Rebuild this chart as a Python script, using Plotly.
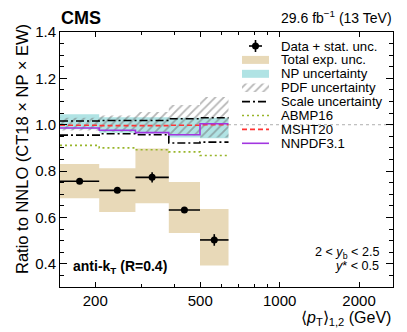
import numpy as np
import plotly.graph_objects as go

# pT bin edges (GeV) and measured / predicted ratios to NNLO (CT18 x NP x EW)
edges = [147, 207, 284, 380, 499, 640]
data_ratio = [0.756, 0.717, 0.773, 0.632, 0.503]
stat_unc = [0.010, 0.010, 0.022, 0.012, 0.025]
exp_up = [0.831, 0.812, 0.897, 0.753, 0.636]
exp_dn = [0.683, 0.624, 0.661, 0.533, 0.393]
np_up = [1.045, 1.032, 1.032, 1.030, 1.030]
np_dn = [0.980, 0.965, 0.962, 0.945, 0.942]
pdf_up = [1.030, 1.040, 1.055, 1.085, 1.120]
pdf_dn = [0.975, 0.970, 0.965, 0.955, 0.945]
scale_up = [1.016, 1.018, 1.018, 1.026, 1.030]
scale_dn = [0.955, 0.961, 0.957, 0.921, 0.925]
abmp16 = [0.911, 0.900, 0.892, 0.883, 0.867]
msht20 = [0.998, 0.996, 0.996, 0.998, 1.000]
nnpdf31 = [0.986, 0.976, 0.966, 0.957, 1.004]

x_tickvals = [200, 500, 1000, 2000]
x_minor = [300, 400, 600, 700, 800, 900]
y_tickvals = [0.4, 0.6, 0.8, 1.0, 1.2, 1.4]

TAN = "#e8d9b8"
CYAN = "#b0e3e4"
GREEN = "#98b52a"
RED = "#ff3333"
PURPLE = "#a236e0"
HATCH = "#6e6e6e"
FONT = "Liberation Sans"

# figure geometry (pixels)
W, H = 407, 332
ML, MR, MT, MB = 60, 14, 32, 45
PW, PH = W - ML - MR, H - MT - MB


def fx(px):
    return (px - ML) / PW


def fy(py):
    return 1 - (py - MT) / PH


lo = edges[:-1]
hi = edges[1:]
centers = [np.sqrt(a * b) for a, b in zip(lo, hi)]


def band(up, dn):
    xs, ys = [], []
    for a, b, u in zip(lo, hi, up):
        xs += [a, b]
        ys += [u, u]
    for a, b, d in reversed(list(zip(lo, hi, dn))):
        xs += [b, a]
        ys += [d, d]
    return xs, ys


def boxes(up, dn):
    xs, ys = [], []
    for a, b, u, d in zip(lo, hi, up, dn):
        xs += [a, b, b, a, a, None]
        ys += [d, d, u, u, d, None]
    return xs, ys


def step(vals):
    return edges, list(vals) + [vals[-1]]


fig = go.Figure()

bx, by = boxes(exp_up, exp_dn)
fig.add_trace(go.Scatter(x=bx, y=by, fill="toself", fillcolor=TAN, mode="none",
                         showlegend=False, hoverinfo="skip"))

nx, ny = band(np_up, np_dn)
fig.add_trace(go.Scatter(x=nx, y=ny, fill="toself", fillcolor=CYAN, mode="none",
                         showlegend=False, hoverinfo="skip"))

hatch = dict(shape="/", fgcolor=HATCH, bgcolor="rgba(0,0,0,0)", size=6, solidity=0.3)
px_, py_ = band(pdf_up, pdf_dn)
fig.add_trace(go.Scatter(x=px_, y=py_, fill="toself", mode="none", fillpattern=hatch,
                         showlegend=False, hoverinfo="skip"))

for vals in (scale_up, scale_dn):
    sx, sy = step(vals)
    fig.add_trace(go.Scatter(x=sx, y=sy, mode="lines", line_shape="hv",
                             line=dict(color="black", width=1.6, dash="8px,3px,2px,3px"),
                             showlegend=False, hoverinfo="skip"))

for vals, col, dash in ((abmp16, GREEN, "2px,3px"), (msht20, RED, "5px,3px"),
                        (nnpdf31, PURPLE, "solid")):
    sx, sy = step(vals)
    fig.add_trace(go.Scatter(x=sx, y=sy, mode="lines", line_shape="hv",
                             line=dict(color=col, width=1.6, dash=dash),
                             showlegend=False, hoverinfo="skip"))

fig.add_trace(go.Scatter(
    x=centers, y=data_ratio, mode="markers",
    marker=dict(color="black", size=7),
    error_y=dict(type="data", array=stat_unc, color="black", thickness=1.6, width=0),
    error_x=dict(type="data", symmetric=False,
                 array=[b - c for b, c in zip(hi, centers)],
                 arrayminus=[c - a for a, c in zip(lo, centers)],
                 color="black", thickness=1.6, width=0),
    showlegend=False, hoverinfo="skip"))

# hatched legend swatch on an overlay axis in paper units
fig.add_trace(go.Scatter(
    x=[fx(242), fx(269), fx(269), fx(242), fx(242)],
    y=[fy(83.5), fy(83.5), fy(92), fy(92), fy(83.5)],
    xaxis="x2", yaxis="y2", fill="toself", mode="none", fillpattern=hatch,
    showlegend=False, hoverinfo="skip"))

shapes = [dict(type="line", xref="paper", yref="y", x0=0, x1=1, y0=1, y1=1,
               line=dict(color="#999999", width=0.8, dash="dot"), layer="below")]

# manual legend
rows = [46, 59.9, 73.8, 87.7, 101.6, 115.5, 129.4, 143.3]
labels = ["Data + stat. unc.", "Total exp. unc.", "NP uncertainty", "PDF uncertainty",
          "Scale uncertainty", "ABMP16", "MSHT20", "NNPDF3.1"]
sx0, sx1 = 242, 269
r = rows[0]
shapes += [
    dict(type="line", xref="paper", yref="paper", x0=fx(249), x1=fx(262), y0=fy(r), y1=fy(r),
         line=dict(color="black", width=1.6)),
    dict(type="line", xref="paper", yref="paper", x0=fx(255.5), x1=fx(255.5), y0=fy(r - 6), y1=fy(r + 6),
         line=dict(color="black", width=1.6)),
    dict(type="circle", xref="paper", yref="paper", x0=fx(252), x1=fx(259), y0=fy(r - 3.5), y1=fy(r + 3.5),
         fillcolor="black", line=dict(width=0)),
    dict(type="rect", xref="paper", yref="paper", x0=fx(sx0), x1=fx(sx1), y0=fy(rows[1] - 4), y1=fy(rows[1] + 4),
         fillcolor=TAN, line=dict(width=0)),
    dict(type="rect", xref="paper", yref="paper", x0=fx(sx0), x1=fx(sx1), y0=fy(rows[2] - 4), y1=fy(rows[2] + 4),
         fillcolor=CYAN, line=dict(width=0)),
]
for rr, col, dash in ((rows[4], "black", "8px,3px,2px,3px"), (rows[5], GREEN, "2px,3px"),
                      (rows[6], RED, "5px,3px"), (rows[7], PURPLE, "solid")):
    shapes.append(dict(type="line", xref="paper", yref="paper", x0=fx(sx0), x1=fx(sx1),
                       y0=fy(rr), y1=fy(rr), line=dict(color=col, width=1.6, dash=dash)))

annotations = []
for rr, lab in zip(rows, labels):
    annotations.append(dict(text=lab, x=fx(279), y=fy(rr), xref="paper", yref="paper",
                            xanchor="left", yanchor="middle", showarrow=False,
                            font=dict(size=13.2, color="black")))

annotations += [
    dict(text="<b>CMS</b>", x=fx(59), y=fy(18.5), xref="paper", yref="paper",
         xanchor="left", yanchor="middle", showarrow=False, font=dict(size=18)),
    dict(text="29.6 fb<sup>\u22121</sup> (13 TeV)", x=fx(394), y=fy(17.5), xref="paper", yref="paper",
         xanchor="right", yanchor="middle", showarrow=False, font=dict(size=14)),
    dict(text="<b>anti-k<sub>T</sub> (R=0.4)</b>", x=fx(71), y=fy(267), xref="paper", yref="paper",
         xanchor="left", yanchor="middle", showarrow=False, font=dict(size=14)),
    dict(text="2 < <i>y</i><sub>b</sub> < 2.5", x=fx(381), y=fy(253), xref="paper", yref="paper",
         xanchor="right", yanchor="middle", showarrow=False, font=dict(size=12.6)),
    dict(text="<i>y</i>* < 0.5", x=fx(381), y=fy(266), xref="paper", yref="paper",
         xanchor="right", yanchor="middle", showarrow=False, font=dict(size=12.6)),
    dict(text="\u27e8<i>p</i><sub>T</sub>\u27e9<sub>1,2</sub> (GeV)", x=fx(393), y=fy(318), xref="paper", yref="paper",
         xanchor="right", yanchor="middle", showarrow=False, font=dict(size=16)),
    dict(text="Ratio to NNLO (CT18 \u00d7 NP \u00d7 EW)", x=fx(22), y=fy(22), xref="paper", yref="paper",
         xanchor="center", yanchor="top", textangle=-90, showarrow=False, font=dict(size=16.5)),
]

fig.update_layout(
    width=W, height=H,
    margin=dict(l=ML, r=MR, t=MT, b=MB),
    paper_bgcolor="white", plot_bgcolor="white",
    font=dict(family=FONT, color="black"),
    showlegend=False,
    shapes=shapes,
    annotations=annotations,
    xaxis=dict(type="log", range=[np.log10(147), np.log10(2690)], automargin=False,
               tickvals=x_tickvals, ticktext=[str(v) for v in x_tickvals],
               ticks="inside", ticklen=5, tickcolor="black", tickfont=dict(size=15),
               minor=dict(tickvals=x_minor, ticks="inside", ticklen=3, tickcolor="black"),
               showline=True, linecolor="black", linewidth=1, mirror="allticks",
               showgrid=False, zeroline=False),
    yaxis=dict(range=[0.3, 1.4], automargin=False,
               tickvals=y_tickvals, ticktext=["%.1f" % v for v in y_tickvals],
               ticks="inside", ticklen=7, tickcolor="black", tickfont=dict(size=15),
               minor=dict(dtick=0.05, tick0=0.3, ticks="inside", ticklen=4, tickcolor="black"),
               showline=True, linecolor="black", linewidth=1, mirror="allticks",
               showgrid=False, zeroline=False),
    xaxis2=dict(overlaying="x", range=[0, 1], visible=False, fixedrange=True),
    yaxis2=dict(overlaying="y", range=[0, 1], visible=False, fixedrange=True),
)

# drop the browser's default body margin so the figure sits at the page corner
fig.write_html("out.html", config={"displayModeBar": False},
               post_script="document.body.style.margin='0';")
